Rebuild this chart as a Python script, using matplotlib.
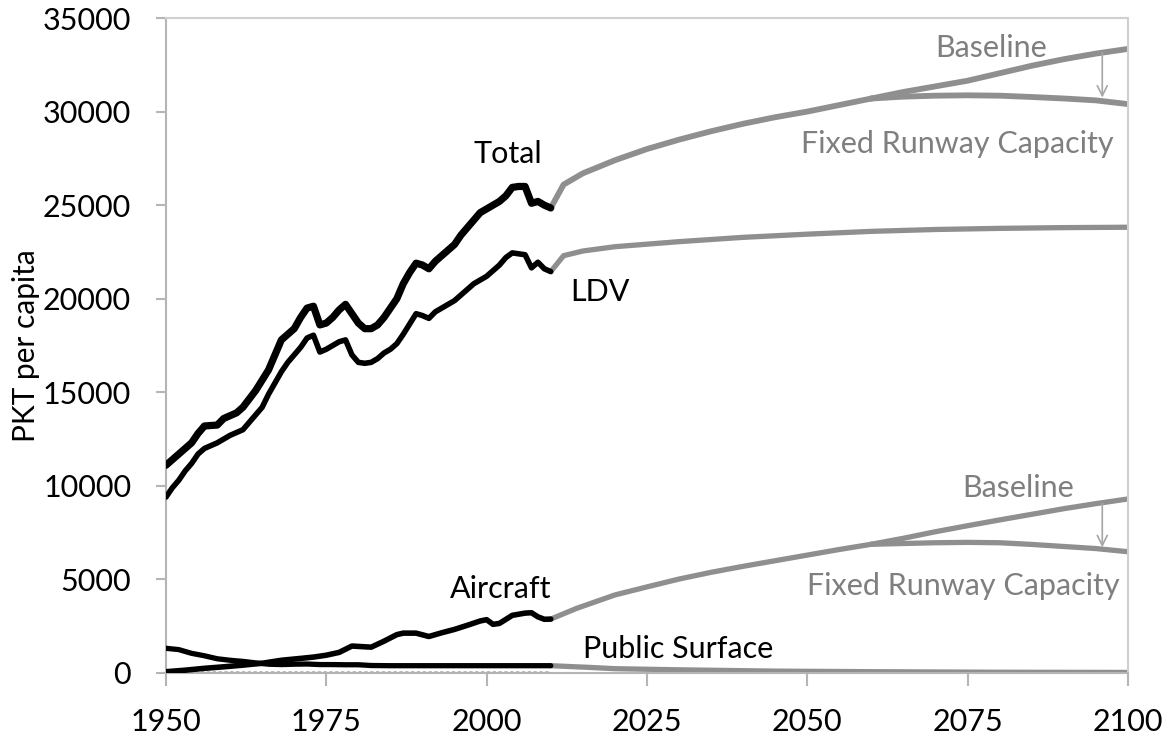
import matplotlib
matplotlib.use('Agg')
import matplotlib.pyplot as plt

# Historic passenger-km per capita (1950-2010)
total_years = [1950, 1952, 1953, 1954, 1955, 1956, 1958, 1959, 1961, 1962, 1964, 1966,
               1968, 1970, 1971, 1972, 1973, 1974, 1975, 1976, 1977, 1978, 1979, 1980,
               1981, 1982, 1983, 1984, 1985, 1986, 1987, 1988, 1989, 1990, 1991, 1992,
               1993, 1994, 1995, 1996, 1997, 1998, 1999, 2000, 2001, 2002, 2003, 2004,
               2005, 2006, 2007, 2008, 2009, 2010]
total_hist = [11100, 11700, 12000, 12300, 12800, 13200, 13250, 13600, 13900, 14200, 15100, 16200,
              17800, 18400, 19000, 19500, 19600, 18600, 18700, 19000, 19400, 19700, 19200, 18700,
              18400, 18400, 18600, 19000, 19500, 20000, 20800, 21400, 21900, 21800, 21600, 22000,
              22300, 22600, 22900, 23400, 23800, 24200, 24600, 24800, 25000, 25200, 25500, 25950,
              26000, 26000, 25100, 25200, 25000, 24850]

ldv_years = list(range(1950, 2011))
ldv_hist = [9400, 9900, 10300, 10800, 11200, 11700, 12000, 12150, 12300, 12500,
            12700, 12850, 13000, 13400, 13800, 14200, 14900, 15500, 16100, 16600,
            17000, 17400, 17900, 18050, 17150, 17300, 17500, 17700, 17800, 17000,
            16600, 16550, 16600, 16800, 17100, 17300, 17600, 18100, 18650, 19200,
            19100, 18950, 19300, 19500, 19700, 19900, 20200, 20500, 20800, 21000,
            21200, 21500, 21800, 22200, 22450, 22400, 22350, 21650, 21950, 21600,
            21450]

air_years = [1950, 1953, 1956, 1959, 1962, 1965, 1968, 1971, 1973, 1975, 1977, 1979, 1980,
             1982, 1984, 1986, 1987, 1989, 1991, 1993, 1995, 1997, 1999, 2000, 2001, 2002,
             2004, 2006, 2007, 2008, 2009, 2010]
air_hist = [70, 150, 250, 330, 420, 520, 680, 780, 850, 950, 1100, 1440, 1420,
            1380, 1700, 2050, 2130, 2130, 1950, 2150, 2330, 2550, 2780, 2850, 2600, 2650,
            3080, 3200, 3220, 3000, 2870, 2880]

pub_years = [1950, 1952, 1954, 1956, 1958, 1960, 1962, 1964, 1966, 1968, 1970, 1972,
             1974, 1976, 1978, 1980, 1982, 1985, 1990, 2000, 2010]
pub_hist = [1320, 1250, 1050, 920, 760, 680, 620, 540, 470, 450, 470, 480,
            450, 450, 440, 440, 400, 390, 390, 390, 390]

other_years = [1950, 1980, 2010]
other_hist = [30, 30, 30]

# Projections (2010-2100): shared path, then Baseline / Fixed Runway Capacity
total_proj_years = [2010, 2012, 2015, 2020, 2025, 2030, 2035, 2040, 2045, 2050, 2055, 2060]
total_proj = [24850, 26100, 26700, 27400, 28000, 28500, 28950, 29350, 29700, 30000, 30350, 30700]
split_years = [2060, 2065, 2070, 2075, 2080, 2085, 2090, 2095, 2100]
total_base = [30700, 31050, 31350, 31650, 32050, 32450, 32800, 33100, 33350]
total_fixed = [30700, 30800, 30850, 30870, 30850, 30780, 30700, 30600, 30400]

ldv_proj_years = [2010, 2012, 2015, 2020, 2030, 2040, 2050, 2060, 2070, 2080, 2090, 2100]
ldv_proj = [21450, 22300, 22550, 22780, 23050, 23280, 23450, 23600, 23700, 23760, 23800, 23820]

air_proj_years = [2010, 2014, 2020, 2025, 2030, 2035, 2040, 2045, 2050, 2055, 2060]
air_proj = [2880, 3450, 4170, 4600, 5020, 5380, 5700, 6000, 6300, 6600, 6880]
air_base = [6880, 7200, 7550, 7870, 8180, 8480, 8780, 9050, 9300]
air_fixed = [6880, 6920, 6960, 6980, 6960, 6870, 6760, 6650, 6480]

pub_proj_years = [2010, 2016, 2020, 2030, 2045, 2060, 2080, 2100]
pub_proj = [390, 300, 230, 170, 100, 70, 40, 30]

GREY_LINE = '#8f8f8f'
GREY_TEXT = '#7f7f7f'
FONT = ['Lato', 'DejaVu Sans']


def draw_line(ax, x, y, color, lw, z=2, ls='-'):
    '''
    Plot one series with rounded joins so the thick lines look smooth.
    '''
    ax.plot(x, y, color=color, lw=lw, ls=ls, zorder=z,
            solid_joinstyle='round', solid_capstyle='round')


def main():
    plt.rcParams['font.family'] = FONT

    fig = plt.figure(figsize=(11.72, 7.42), dpi=100)
    ax = fig.add_axes([0.1416, 0.0930, 0.8208, 0.8827])

    # Projections in grey
    draw_line(ax, total_proj_years, total_proj, GREY_LINE, 4.2)
    draw_line(ax, split_years, total_base, GREY_LINE, 4.2)
    draw_line(ax, split_years, total_fixed, GREY_LINE, 4.2)
    draw_line(ax, ldv_proj_years, ldv_proj, GREY_LINE, 3.8)
    draw_line(ax, air_proj_years, air_proj, GREY_LINE, 3.8)
    draw_line(ax, split_years, air_base, GREY_LINE, 3.8)
    draw_line(ax, split_years, air_fixed, GREY_LINE, 3.8)
    draw_line(ax, pub_proj_years, pub_proj, GREY_LINE, 3.8)

    # Historic data in black
    ax.plot(other_years, other_hist, color='#b0b0b0', lw=1.2, ls=(0, (2, 1.5)), zorder=3)
    draw_line(ax, pub_years, pub_hist, 'black', 3.8, z=4)
    draw_line(ax, air_years, air_hist, 'black', 4.0, z=4)
    draw_line(ax, ldv_years, ldv_hist, 'black', 4.0, z=4)
    draw_line(ax, total_years, total_hist, 'black', 5.2, z=4)

    # Arrows from Baseline down to Fixed Runway Capacity
    arrow = dict(arrowstyle='->', color='#a6a6a6', lw=1.2, shrinkA=0, shrinkB=0,
                 mutation_scale=18)
    ax.annotate('', xy=(2096, 30750), xytext=(2096, 33150), arrowprops=arrow, zorder=5)
    ax.annotate('', xy=(2096, 6720), xytext=(2096, 9060), arrowprops=arrow, zorder=5)

    # Series labels
    fs = 22
    ax.text(2003.3, 27270, 'Total', fontsize=fs, color='black', ha='center', va='baseline')
    ax.text(2017.7, 19880, 'LDV', fontsize=fs, color='black', ha='center', va='baseline')
    ax.text(2002.2, 3990, 'Aircraft', fontsize=fs, color='black', ha='center', va='baseline')
    ax.text(2029.9, 785, 'Public Surface', fontsize=fs, color='black', ha='center', va='baseline')
    ax.text(2078.6, 32900, 'Baseline', fontsize=fs, color=GREY_TEXT, ha='center', va='baseline')
    ax.text(2073.4, 27770, 'Fixed Runway Capacity', fontsize=fs, color=GREY_TEXT,
            ha='center', va='baseline')
    ax.text(2082.8, 9390, 'Baseline', fontsize=fs, color=GREY_TEXT, ha='center', va='baseline')
    ax.text(2074.3, 4170, 'Fixed Runway Capacity', fontsize=fs, color=GREY_TEXT,
            ha='center', va='baseline')

    # Axes styling
    ax.set_xlim(1950, 2100)
    ax.set_ylim(0, 35000)
    ax.set_xticks(range(1950, 2101, 25))
    ax.set_yticks(range(0, 35001, 5000))
    ax.set_ylabel('PKT per capita', fontsize=21.5, labelpad=2)

    for side in ['left', 'bottom']:
        ax.spines[side].set_color('#b5b5b5')
        ax.spines[side].set_linewidth(1.5)
    for side in ['top', 'right']:
        ax.spines[side].set_color('#d0d0d0')
        ax.spines[side].set_linewidth(1.5)

    ax.tick_params(axis='x', direction='out', length=9, width=1.5, color='#b5b5b5',
                   labelsize=22, pad=16)
    ax.tick_params(axis='y', direction='out', length=7, width=1.5, color='#b5b5b5',
                   labelsize=22, pad=18)

    fig.savefig('out.png', dpi=100, facecolor='white')


if __name__ == '__main__':
    main()
